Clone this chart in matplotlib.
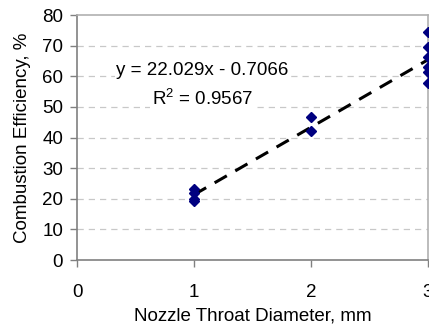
import numpy as np
import matplotlib.pyplot as plt

plt.rcParams['font.family'] = ['Liberation Sans', 'DejaVu Sans']

# nozzle throat diameter (mm) and measured combustion efficiency (%)
diameter = [1, 1, 1, 1, 2, 2, 3, 3, 3, 3, 3, 3]
efficiency = [23.3, 22.0, 20.0, 19.3, 46.8, 42.0, 74.5, 69.6, 66.4, 63.1, 61.5, 57.9]

# linear trendline as reported on the chart
slope = 22.029
intercept = -0.7066
r_squared = 0.9567

x_ticks = [0, 1, 2, 3]
y_ticks = [0, 10, 20, 30, 40, 50, 60, 70, 80]

fs = 13.5

fig = plt.figure(figsize=(4.29, 3.29), dpi=100)
ax = fig.add_axes([0.1795, 0.2097, 0.818, 0.7447])

# horizontal grid
for yv in y_ticks[1:-1]:
    ax.axhline(yv, color='#c8c8c8', lw=0.9, ls=(0, (5, 4)), zorder=1)

# trendline
xt = np.array([min(diameter), max(diameter)])
ax.plot(xt, slope * xt + intercept, color='black', lw=2.2, ls=(0, (4.6, 3.2)), zorder=3)

ax.plot(diameter, efficiency, ls='none', marker='D', ms=5, color='#000080',
        zorder=4, clip_on=False)

ax.text(1.07, 62.0, 'y = %.3fx - %.4f' % (slope, -intercept), fontsize=fs,
        ha='center', va='center', zorder=2,
        bbox=dict(facecolor='white', edgecolor='none', pad=1))
ax.text(1.07, 52.6, '$\\mathregular{R^2}$ = %.4f' % r_squared, fontsize=fs,
        ha='center', va='center', zorder=2,
        bbox=dict(facecolor='white', edgecolor='none', pad=1))

ax.set_xlim(0, 3)
ax.set_ylim(0, 80)
ax.set_xticks(x_ticks)
ax.set_yticks(y_ticks)

ax.spines['left'].set_color('#808080')
ax.spines['bottom'].set_color('#808080')
ax.spines['top'].set_color('#b0b0b0')
ax.spines['right'].set_color('#b0b0b0')
for s in ax.spines.values():
    s.set_linewidth(1.2)

ax.tick_params(axis='x', direction='out', length=5, width=1, color='#808080',
               labelsize=fs, pad=12)
ax.tick_params(axis='y', direction='out', length=5, width=1, color='#808080',
               labelsize=fs, pad=5)

ax.set_xlabel('Nozzle Throat Diameter, mm', fontsize=fs, labelpad=5)
ax.set_ylabel('Combustion Efficiency, %', fontsize=fs, labelpad=8)

fig.savefig('out.png', dpi=100)
